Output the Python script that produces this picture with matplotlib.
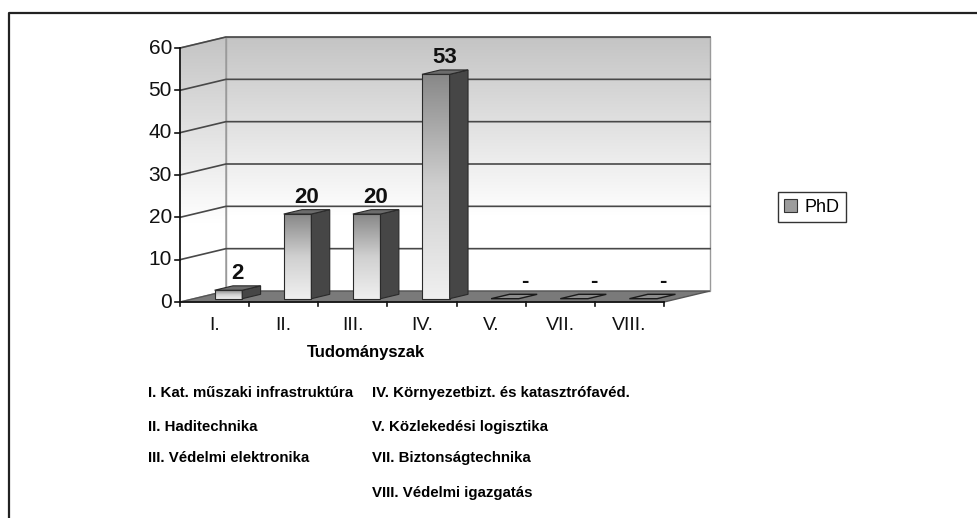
import numpy as np
import matplotlib.pyplot as plt
from matplotlib.patches import Polygon, Patch
from matplotlib.colors import LinearSegmentedColormap
from matplotlib.lines import Line2D

categories = ['I.', 'II.', 'III.', 'IV.', 'V.', 'VII.', 'VIII.']
phd = [2, 20, 20, 53, 0, 0, 0]
value_labels = ['2', '20', '20', '53', '-', '-', '-']
y_ticks = [0, 10, 20, 30, 40, 50, 60]
x_title = 'Tudományszak'
left_names = ['I. Kat. műszaki infrastruktúra', 'II. Haditechnika', 'III. Védelmi elektronika']
right_names = ['IV. Környezetbizt. és katasztrófavéd.', 'V. Közlekedési logisztika',
               'VII. Biztonságtechnika', 'VIII. Védelmi igazgatás']

plt.rcParams['font.family'] = ['Liberation Sans', 'DejaVu Sans']

W, H = 977, 518
fig = plt.figure(figsize=(W / 100, H / 100), dpi=100)
ax = fig.add_axes([0, 0, 1, 1])
ax.axis('off')

# pixel anchors of the front plot box (category axis / value axis)
X0, X1 = 180, 664
YB, YT = 302, 48
ncat = len(categories)
ymax = 60
cat_px = (X1 - X0) / ncat
val_px = (YB - YT) / ymax
# oblique depth offset (full depth), in data units
DX = 46 / cat_px
DY = 11 / val_px

def fx(px):
    return px / W

def fy(py):
    return 1 - py / H

wall_cmap = LinearSegmentedColormap.from_list('wall', [(0, 'white'), (0.3, 'white'), (1, '#c4c4c4')])
front_cmap = LinearSegmentedColormap.from_list('front', ['#f0f0f0', '#d0d0d0', '#888888'])
grad = np.linspace(0, 1, 256).reshape(-1, 1)

# back wall
top = ymax + DY
ax.imshow(grad, cmap=wall_cmap, origin='lower', aspect='auto',
          extent=[DX, ncat + DX, DY, top], zorder=1, interpolation='bilinear')
ax.add_patch(Polygon([(DX, DY), (ncat + DX, DY), (ncat + DX, top), (DX, top)],
                     closed=True, fill=False, edgecolor='#9a9a9a', lw=1, zorder=2))

# side wall, gradient clipped by its outline
side = Polygon([(0, 0), (DX, DY), (DX, top), (0, ymax)], closed=True,
               fill=False, edgecolor='#9a9a9a', lw=1, zorder=2)
ax.add_patch(side)
im = ax.imshow(grad, cmap=wall_cmap, origin='lower', aspect='auto',
               extent=[0, DX, 0, top], zorder=1, interpolation='bilinear')
im.set_clip_path(side)

# gridlines
for v in y_ticks[1:]:
    ax.plot([0, DX, ncat + DX], [v, v + DY, v + DY], color='#484848', lw=1.2, zorder=3)

# floor
ax.add_patch(Polygon([(0, 0), (ncat, 0), (ncat + DX, DY), (DX, DY)], closed=True,
                     facecolor='#7a7a7a', edgecolor='#555555', lw=1, zorder=3))

# axes lines and ticks
ax.plot([0, 0], [0, ymax], color='#111111', lw=1.2, zorder=6)
ax.plot([0, ncat], [0, 0], color='#111111', lw=1.2, zorder=6)
for v in y_ticks:
    ax.plot([-5 / cat_px, 0], [v, v], color='#111111', lw=1.2, zorder=6)
    ax.text(-8 / cat_px, v, str(v), ha='right', va='center', fontsize=15, color='#111111')
for i in range(ncat + 1):
    ax.plot([i, i], [0, -4 / val_px], color='#111111', lw=1.2, zorder=6)
for i, c in enumerate(categories):
    ax.text(i + 0.5, -23 / val_px, c, ha='center', va='center', fontsize=14, color='#111111')

# bars: front face at depth 0.3, back face at depth 0.7
bw = 0.4
for i, v in enumerate(phd):
    x0 = i + 0.5 - bw / 2 + 0.3 * DX
    x1 = x0 + bw
    y0 = 0.3 * DY
    y1 = v + 0.3 * DY
    ddx, ddy = 0.4 * DX, 0.4 * DY
    if v > 0:
        ax.imshow(grad, cmap=front_cmap, origin='lower', aspect='auto',
                  extent=[x0, x1, y0, y1], zorder=4, interpolation='bilinear')
        ax.add_patch(Polygon([(x0, y0), (x1, y0), (x1, y1), (x0, y1)], closed=True,
                             fill=False, edgecolor='#2a2a2a', lw=0.8, zorder=5))
        ax.add_patch(Polygon([(x1, y0), (x1 + ddx, y0 + ddy), (x1 + ddx, y1 + ddy), (x1, y1)],
                             closed=True, facecolor='#464646', edgecolor='#2a2a2a', lw=0.8, zorder=5))
        ax.add_patch(Polygon([(x0, y1), (x1, y1), (x1 + ddx, y1 + ddy), (x0 + ddx, y1 + ddy)],
                             closed=True, facecolor='#6c6c6c', edgecolor='#2a2a2a', lw=0.8, zorder=5))
    else:
        ax.add_patch(Polygon([(x0, y1), (x1, y1), (x1 + ddx, y1 + ddy), (x0 + ddx, y1 + ddy)],
                             closed=True, facecolor='#8c8c8c', edgecolor='#1a1a1a', lw=1, zorder=5))
    lx = i + 0.5 + 0.5 * DX + (0.15 if v == 0 else 0)
    ax.text(lx, v + 0.7 * DY + 7 / val_px, value_labels[i], ha='center', va='baseline',
            fontsize=16, fontweight='bold', color='#111111', zorder=7)

ax.set_xlim(-X0 / cat_px, (W - X0) / cat_px)
ax.set_ylim(-(H - YB) / val_px, YB / val_px)

# axis title and category key
fig.text(fx(366), fy(352), x_title, ha='center', va='center', fontsize=12, fontweight='bold')
rows = [393, 427, 458, 493]
for name, r in zip(left_names, rows):
    fig.text(fx(148), fy(r), name, ha='left', va='center', fontsize=10.8, fontweight='bold')
for name, r in zip(right_names, rows):
    fig.text(fx(372), fy(r), name, ha='left', va='center', fontsize=10.8, fontweight='bold')

# legend
leg = fig.legend(handles=[Patch(facecolor='#9c9c9c', edgecolor='#333333', lw=0.8)], labels=['PhD'],
                 loc='center left', bbox_to_anchor=(fx(778), fy(207)), fontsize=13,
                 handlelength=0.7, handleheight=0.7, handletextpad=0.4, borderpad=0.35,
                 borderaxespad=0, fancybox=False, framealpha=1, edgecolor='#333333')

# outer frame (top and left edges)
fig.add_artist(Line2D([fx(8.5), fx(8.5), 1], [0, fy(13), fy(13)], transform=fig.transFigure,
                      color='#222222', lw=1.6))

fig.savefig('out.png', dpi=100)
